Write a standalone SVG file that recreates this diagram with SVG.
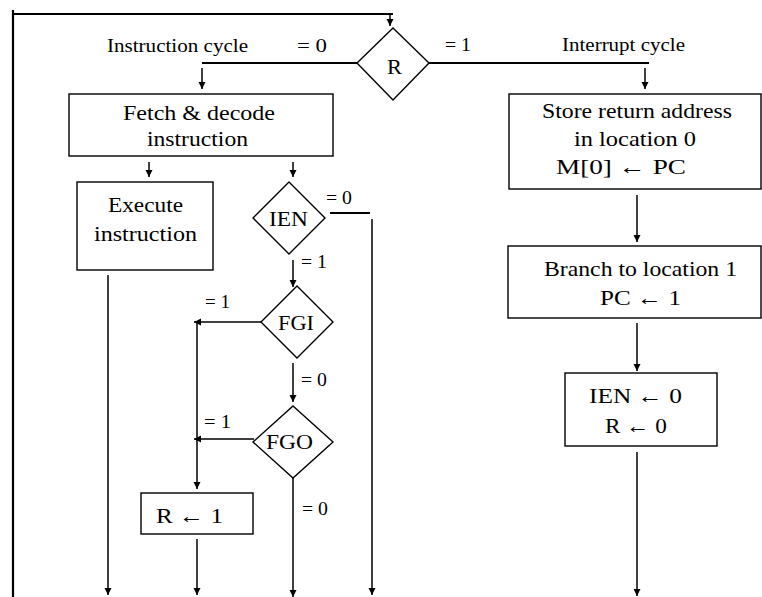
<svg xmlns="http://www.w3.org/2000/svg" width="762" height="597" viewBox="0 0 762 597">
  <style>
    .box { fill: #fff; stroke: #000; stroke-width: 1.4; }
    .dec { fill: #fff; stroke: #000; stroke-width: 1.4; }
    .thick { fill: none; stroke: #000; stroke-width: 2.2; }
    .arr { fill: none; stroke: #000; stroke-width: 1.5; marker-end: url(#ah); }
    .t { font-family: "Liberation Serif", "Times New Roman", serif; font-size: 21px; fill: #000; }
    .lbl { font-family: "Liberation Serif", "Times New Roman", serif; font-size: 18px; fill: #000; }
  </style>
  <defs>
    <marker id="ah" markerUnits="userSpaceOnUse" markerWidth="8" markerHeight="8" refX="7" refY="3.5" orient="auto">
      <path d="M0,0 L7,3.5 L0,7 z" fill="#000"/>
    </marker>
  </defs>
  <rect width="762" height="597" fill="#fff"/>

  <!-- connectors -->
  <g id="connectors">
    <!-- return loop along the left and top -->
    <line class="thick" x1="13" y1="10" x2="13" y2="597"/>
    <line class="thick" x1="12" y1="14" x2="393" y2="14"/>
    <line class="arr" x1="390" y1="14" x2="390" y2="26"/>
    <!-- R branches -->
    <line class="thick" x1="357" y1="63" x2="202" y2="63"/>
    <line class="arr" x1="202" y1="68" x2="202" y2="89"/>
    <line class="thick" x1="429" y1="63" x2="649" y2="63"/>
    <line class="arr" x1="645" y1="68" x2="645" y2="89"/>
    <!-- instruction cycle -->
    <line class="arr" x1="149" y1="162" x2="149" y2="177"/>
    <line class="arr" x1="293" y1="162" x2="293" y2="177"/>
    <line class="arr" x1="108" y1="275" x2="108" y2="595"/>
    <line class="thick" x1="330" y1="213" x2="370" y2="213"/>
    <line class="arr" x1="372" y1="219" x2="372" y2="595"/>
    <line class="arr" x1="293" y1="260" x2="293" y2="287"/>
    <line class="arr" x1="261" y1="322" x2="194" y2="322"/>
    <line class="arr" x1="197" y1="323" x2="197" y2="489"/>
    <line class="arr" x1="293" y1="363" x2="293" y2="402"/>
    <line class="arr" x1="254" y1="439" x2="194" y2="439"/>
    <line class="arr" x1="293" y1="478" x2="293" y2="597"/>
    <line class="arr" x1="197" y1="539" x2="197" y2="595"/>
    <!-- interrupt cycle -->
    <line class="arr" x1="637" y1="195" x2="637" y2="242"/>
    <line class="arr" x1="637" y1="323" x2="637" y2="371"/>
    <line class="arr" x1="637" y1="452" x2="637" y2="596"/>
    <!-- branch labels -->
    <text class="lbl" x="107" y="52" textLength="141" lengthAdjust="spacingAndGlyphs">Instruction cycle</text>
    <text class="lbl" x="297" y="52" textLength="30" lengthAdjust="spacingAndGlyphs">= 0</text>
    <text class="lbl" x="445" y="51" textLength="26" lengthAdjust="spacingAndGlyphs">= 1</text>
    <text class="lbl" x="562" y="51" textLength="123" lengthAdjust="spacingAndGlyphs">Interrupt cycle</text>
    <text class="lbl" x="326" y="204" textLength="26" lengthAdjust="spacingAndGlyphs">= 0</text>
    <text class="lbl" x="301" y="268" textLength="26" lengthAdjust="spacingAndGlyphs">= 1</text>
    <text class="lbl" x="205" y="308" textLength="25" lengthAdjust="spacingAndGlyphs">= 1</text>
    <text class="lbl" x="301" y="386" textLength="26" lengthAdjust="spacingAndGlyphs">= 0</text>
    <text class="lbl" x="204" y="428" textLength="27" lengthAdjust="spacingAndGlyphs">= 1</text>
    <text class="lbl" x="302" y="515" textLength="26" lengthAdjust="spacingAndGlyphs">= 0</text>
  </g>

  <!-- decisions -->
  <g id="dec-R">
    <polygon class="dec" points="393,28 429,63 393,100 357,63"/>
    <text class="t" x="387" y="74" textLength="15" lengthAdjust="spacingAndGlyphs">R</text>
  </g>
  <g id="dec-IEN">
    <polygon class="dec" points="289,182 325,218 289,254 253,218"/>
    <text class="t" x="269" y="226" textLength="39" lengthAdjust="spacingAndGlyphs">IEN</text>
  </g>
  <g id="dec-FGI">
    <polygon class="dec" points="297,286 333,322 297,358 261,322"/>
    <text class="t" x="278" y="330" textLength="36" lengthAdjust="spacingAndGlyphs">FGI</text>
  </g>
  <g id="dec-FGO">
    <polygon class="dec" points="293,406 333,442 293,478 253,442"/>
    <text class="t" x="266" y="449" textLength="47" lengthAdjust="spacingAndGlyphs">FGO</text>
  </g>

  <!-- process boxes -->
  <g id="fetch">
    <rect class="box" x="69" y="94" width="264" height="62"/>
    <text class="t" x="123" y="120" textLength="152" lengthAdjust="spacingAndGlyphs">Fetch &amp; decode</text>
    <text class="t" x="147" y="146" textLength="101" lengthAdjust="spacingAndGlyphs">instruction</text>
  </g>
  <g id="execute">
    <rect class="box" x="77" y="182" width="136" height="88"/>
    <text class="t" x="108" y="212" textLength="75" lengthAdjust="spacingAndGlyphs">Execute</text>
    <text class="t" x="94" y="241" textLength="103" lengthAdjust="spacingAndGlyphs">instruction</text>
  </g>
  <g id="set-R">
    <rect class="box" x="141" y="493" width="112" height="41"/>
    <text class="t" x="156" y="523" textLength="67" lengthAdjust="spacingAndGlyphs">R ← 1</text>
  </g>
  <g id="store">
    <rect class="box" x="509" y="94" width="252" height="95"/>
    <text class="t" x="542" y="118" textLength="190" lengthAdjust="spacingAndGlyphs">Store return address</text>
    <text class="t" x="574" y="146" textLength="122" lengthAdjust="spacingAndGlyphs">in location 0</text>
    <text class="t" x="556" y="174" textLength="130" lengthAdjust="spacingAndGlyphs">M[0] ←  PC</text>
  </g>
  <g id="branch">
    <rect class="box" x="508" y="246" width="253" height="72"/>
    <text class="t" x="544" y="276" textLength="193" lengthAdjust="spacingAndGlyphs">Branch to location 1</text>
    <text class="t" x="600" y="305" textLength="81" lengthAdjust="spacingAndGlyphs">PC ←  1</text>
  </g>
  <g id="clear">
    <rect class="box" x="565" y="373" width="152" height="73"/>
    <text class="t" x="589" y="403" textLength="93" lengthAdjust="spacingAndGlyphs">IEN ←  0</text>
    <text class="t" x="605" y="433" textLength="62" lengthAdjust="spacingAndGlyphs">R ← 0</text>
  </g>
</svg>
